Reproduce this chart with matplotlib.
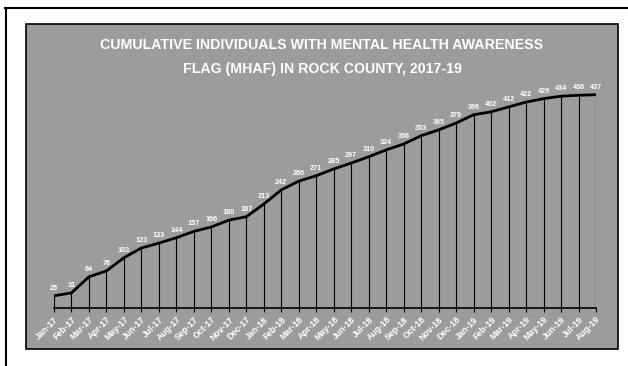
import matplotlib
matplotlib.use('Agg')
import matplotlib.pyplot as plt
from matplotlib.patches import Rectangle
from matplotlib.lines import Line2D

plt.rcParams['font.family'] = ['Liberation Sans', 'DejaVu Sans']

# monthly cumulative counts, Jan 2017 - Aug 2019
months = ['Jan-17', 'Feb-17', 'Mar-17', 'Apr-17', 'May-17', 'Jun-17', 'Jul-17', 'Aug-17',
          'Sep-17', 'Oct-17', 'Nov-17', 'Dec-17', 'Jan-18', 'Feb-18', 'Mar-18', 'Apr-18',
          'May-18', 'Jun-18', 'Jul-18', 'Aug-18', 'Sep-18', 'Oct-18', 'Nov-18', 'Dec-18',
          'Jan-19', 'Feb-19', 'Mar-19', 'Apr-19', 'May-19', 'Jun-19', 'Jul-19', 'Aug-19']
counts = [25, 31, 64, 76, 103, 123, 133, 144, 157, 166, 180, 187, 213, 242, 260, 271,
          285, 297, 310, 324, 336, 353, 365, 379, 396, 402, 412, 422, 429, 434, 436, 437]

title = 'CUMULATIVE INDIVIDUALS WITH MENTAL HEALTH AWARENESS\nFLAG (MHAF) IN ROCK COUNTY, 2017-19'

W, H = 628, 366
fig = plt.figure(figsize=(W / 100, H / 100), dpi=100)
fig.patch.set_facecolor('white')

# page frame lines (scanned page edge)
fig.add_artist(Line2D([5 / W, 1], [1 - 8 / H, 1 - 8 / H], color='black', lw=1.5, zorder=-2))
fig.add_artist(Line2D([6 / W, 6 / W], [0, 1 - 8 / H], color='black', lw=1.5, zorder=-2))

# grey chart area with dark border
fig.add_artist(Rectangle((26 / W, 1 - 349 / H), (618 - 26) / W, (349 - 24) / H,
                         facecolor='#9c9c9c', edgecolor='black', lw=1.2, zorder=-1))

fig.text(322 / W, 1 - 57 / H, title, ha='center', va='center', color='white',
         fontsize=10.2, fontweight='bold', linespacing=1.85)

ax = fig.add_axes([54 / W, 1 - 308 / H, (596 - 54) / W, 244 / H])
ax.set_facecolor('none')
x = list(range(len(counts)))
ax.plot(x, counts, color='black', lw=2.0, zorder=3)
ax.vlines(x, 0, counts, color='black', lw=0.8, zorder=2)
for xi, v in zip(x, counts):
    ax.text(xi, v + 8, str(v), ha='center', va='bottom', color='white',
            fontsize=5.2, fontweight='bold')

ax.set_xlim(0, len(counts) - 1)
ax.set_ylim(0, 500)
ax.set_yticks([])
for s in ['top', 'right', 'left']:
    ax.spines[s].set_visible(False)
ax.spines['bottom'].set_color('black')
ax.spines['bottom'].set_linewidth(1.2)
ax.set_xticks(x)
ax.set_xticklabels(months, rotation=45, ha='right', rotation_mode='anchor',
                   color='white', fontsize=6.3, fontweight='bold')
ax.tick_params(axis='x', length=3, color='black', pad=2)

fig.savefig('out.png', dpi=100)
